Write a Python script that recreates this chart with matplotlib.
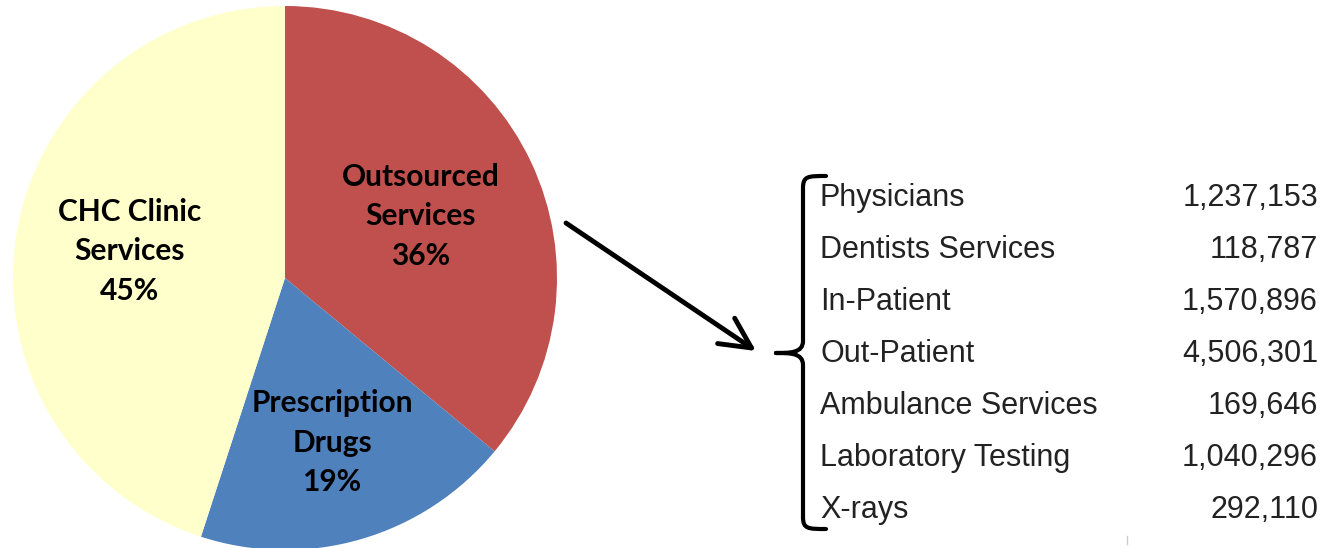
import matplotlib.pyplot as plt
import numpy as np
from matplotlib.path import Path
from matplotlib.patches import PathPatch

# pie shares (percent), clockwise from 12 o'clock
slices = ['Outsourced\nServices', 'Prescription\nDrugs', 'CHC Clinic\nServices']
shares = [36, 19, 45]
slice_colors = ['#C0504D', '#4F81BD', '#FFFFCC']

# breakdown of outsourced services
items = ['Physicians', 'Dentists Services', 'In-Patient', 'Out-Patient',
         'Ambulance Services', 'Laboratory Testing', 'X-rays']
amounts = [1237153, 118787, 1570896, 4506301, 169646, 1040296, 292110]

W, H = 1326, 548
fig = plt.figure(figsize=(W / 100, H / 100), dpi=100)
ax = fig.add_axes([0, 0, 1, 1])

cx, cy, r = 285, H - 278, 272
wedges, _ = ax.pie(shares, colors=slice_colors, startangle=90, counterclock=False,
                   center=(cx, cy), radius=r, wedgeprops=dict(linewidth=0))

# slice labels at a fraction of the radius along the mid angle
label_frac = [0.55, 0.62, 0.58]
label_dy = [-2, -3, 2]
for w, name, pct, f, dy in zip(wedges, slices, shares, label_frac, label_dy):
    a = np.deg2rad((w.theta1 + w.theta2) / 2)
    ax.text(cx + f * r * np.cos(a), cy + f * r * np.sin(a) + dy, f'{name}\n{pct}%',
            ha='center', va='center', fontsize=21.5, fontweight='bold',
            family='Lato', linespacing=1.5, color='black')

# arrow from the outsourced slice to the table
ax.annotate('', xy=(756, H - 351), xytext=(566, H - 223),
            arrowprops=dict(arrowstyle='->,head_length=1.0,head_width=0.5',
                            lw=3.5, color='black', mutation_scale=22,
                            shrinkA=0, shrinkB=0))

# curly brace
top, mid, bot, xv = H - 176, H - 353, H - 529, 803
verts = [(826, top), (808, top), (xv, top), (xv, top - 12),
         (xv, mid + 12),
         (xv, mid), (790, mid), (776, mid),
         (790, mid), (xv, mid), (xv, mid - 12),
         (xv, bot + 12),
         (xv, bot), (808, bot), (826, bot)]
codes = [Path.MOVETO, Path.CURVE4, Path.CURVE4, Path.CURVE4,
         Path.LINETO,
         Path.CURVE4, Path.CURVE4, Path.CURVE4,
         Path.CURVE4, Path.CURVE4, Path.CURVE4,
         Path.LINETO,
         Path.CURVE4, Path.CURVE4, Path.CURVE4]
ax.add_patch(PathPatch(Path(verts, codes), fill=False, lw=3, color='black',
                       capstyle='round', joinstyle='round'))

# table rows
for i, (name, val) in enumerate(zip(items, amounts)):
    y = H - (198 + 52 * i)
    ax.text(820, y, name, ha='left', va='center', fontsize=22,
            family='Liberation Sans', color='#222222')
    ax.text(1318, y, f'{val:,}', ha='right', va='center', fontsize=22,
            family='Liberation Sans', color='#222222')

ax.plot([1127, 1127], [H - 536, H - 544], color='#cccccc', lw=1)

ax.set_xlim(0, W)
ax.set_ylim(0, H)
ax.set_aspect('equal')
ax.axis('off')
fig.savefig('out.png', dpi=100)
